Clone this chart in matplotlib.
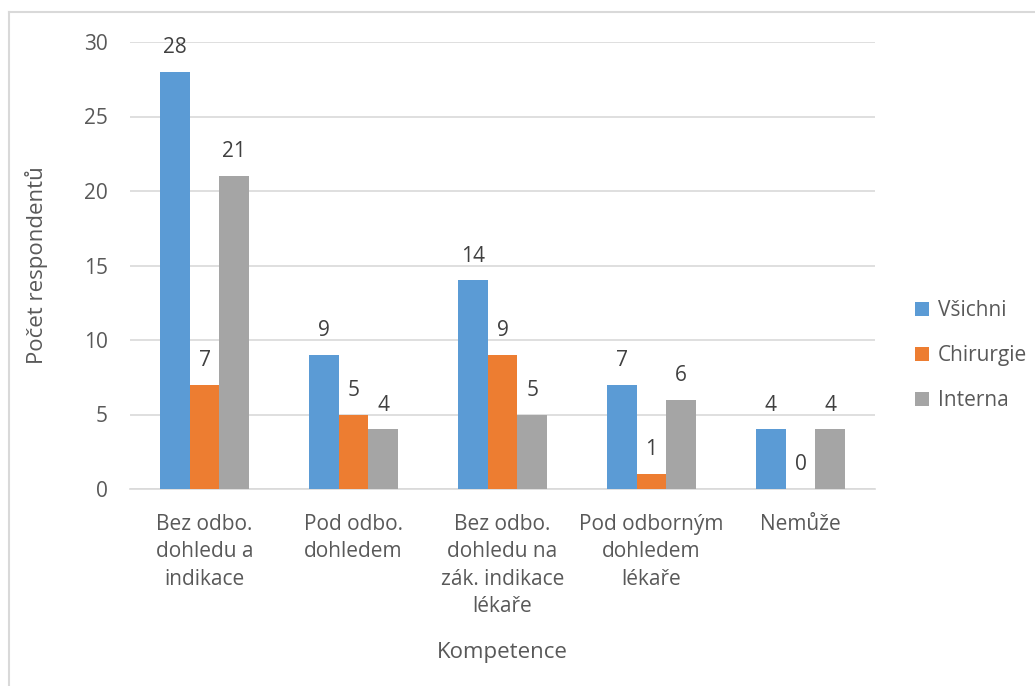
import numpy as np
import matplotlib.pyplot as plt
from matplotlib.lines import Line2D

plt.rcParams['font.family'] = ['Open Sans', 'DejaVu Sans']

# competence categories and respondent counts per group
kategorie = ['Bez odbo.\ndohledu a\nindikace', 'Pod odbo.\ndohledem',
             'Bez odbo.\ndohledu na\nzák. indikace\nlékaře', 'Pod odborným\ndohledem\nlékaře', 'Nemůže']
vsichni = [28, 9, 14, 7, 4]
chirurgie = [7, 5, 9, 1, 0]
interna = [21, 4, 5, 6, 4]
serie = ['Všichni', 'Chirurgie', 'Interna']
barvy = ['#5b9bd5', '#ed7d31', '#a5a5a5']
text_col = '#595959'
fs = 15

W, H = 1035, 686
fig = plt.figure(figsize=(W / 100, H / 100), dpi=100)
ax = fig.add_axes([130 / W, 1 - 489 / H, 745 / W, 447 / H])

x = np.arange(len(kategorie))
sirka = 0.2
for i, (data, nazev, c) in enumerate(zip([vsichni, chirurgie, interna], serie, barvy)):
    bars = ax.bar(x + (i - 1) * sirka, data, sirka, color=c, label=nazev, zorder=3)
    ax.bar_label(bars, labels=[str(v) for v in data], padding=10, fontsize=fs, color='#404040')

ax.set_xlim(-0.5, len(kategorie) - 0.5)
ax.set_ylim(0, 30)
ax.set_yticks(range(0, 31, 5))
ax.grid(axis='y', color='#d9d9d9', linewidth=1.2, zorder=0)
for s in ['top', 'right', 'left']:
    ax.spines[s].set_visible(False)
ax.spines['bottom'].set_color('#d9d9d9')
ax.spines['bottom'].set_linewidth(1.2)
ax.tick_params(length=0, labelsize=fs, colors=text_col)
ax.tick_params(axis='y', pad=16)
ax.tick_params(axis='x', pad=18)
ax.set_xticks(x)
ax.set_xticklabels(kategorie, linespacing=1.4)
ax.set_ylabel('Počet respondentů', fontsize=16, color=text_col, labelpad=26)
ax.set_xlabel('Kompetence', fontsize=16, color=text_col, labelpad=18)

leg = ax.legend(loc='center left', bbox_to_anchor=(766 / 745, 0.298),
                frameon=False, fontsize=fs, handlelength=0.7, handleheight=0.7,
                handletextpad=0.4, labelspacing=1.15, labelcolor=text_col)

# chart area border
fig.add_artist(Line2D([9 / W, 9 / W], [0, 1 - 12 / H], color='#d9d9d9', lw=1.5, transform=fig.transFigure))
fig.add_artist(Line2D([9 / W, 1], [1 - 12 / H, 1 - 12 / H], color='#d9d9d9', lw=1.5, transform=fig.transFigure))

fig.savefig('out.png', dpi=100)
